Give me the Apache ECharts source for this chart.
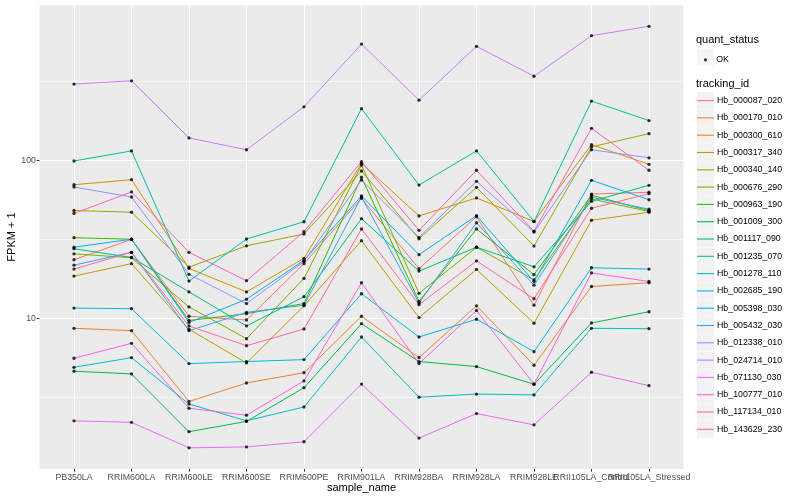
<!DOCTYPE html>
<html>
<head>
<meta charset="utf-8">
<script src="https://cdn.jsdelivr.net/npm/echarts@6/dist/echarts.min.js"></script>
<style>
html,body{margin:0;padding:0;background:#ffffff;}
#chart{width:800px;height:500px;}
</style>
</head>
<body>
<div id="chart"></div>
<script>
// ---------------- data ----------------
const categories = ['PB350LA','RRIM600LA','RRIM600LE','RRIM600SE','RRIM600PE','RRIM901LA','RRIM928BA','RRIM928LA','RRIM928LE','RRII105LA_Control','RRII105LA_Stressed'];

const trackingIds = ['Hb_000087_020','Hb_000170_010','Hb_000300_610','Hb_000317_340','Hb_000340_140','Hb_000676_290','Hb_000963_190','Hb_001009_300','Hb_001117_090','Hb_001235_070','Hb_001278_110','Hb_002685_190','Hb_005398_030','Hb_005432_030','Hb_012338_010','Hb_024714_010','Hb_071130_030','Hb_100777_010','Hb_117134_010','Hb_143629_230'];

// FPKM + 1 per sample (order of categories)
const hb000087_020 = [23.5, 31.6, 10.3, 9.75, 22.2, 57.6, 20.6, 44.0, 12.1, 61.3, 62.9];
const hb000170_010 = [8.64, 8.34, 2.97, 3.89, 4.52, 10.3, 5.63, 12.0, 5.04, 15.9, 16.8];
const hb000300_610 = [70.2, 75.6, 20.7, 14.7, 24.0, 96.0, 44.5, 57.9, 41.1, 126, 94.6];
const hb000317_340 = [18.5, 22.2, 8.52, 5.21, 12.0, 31.0, 10.1, 20.4, 9.30, 41.8, 47.0];
const hb000340_140 = [48.2, 47.0, 21.1, 28.8, 34.2, 85.8, 31.9, 67.6, 28.7, 122, 148];
const hb000676_290 = [25.6, 24.2, 11.8, 7.42, 17.9, 93.6, 14.4, 28.2, 17.5, 57.0, 47.5];
const hb000963_190 = [32.4, 31.7, 9.68, 10.7, 12.4, 78.3, 12.8, 36.8, 18.9, 60.2, 48.1];
const hb001009_300 = [4.62, 4.44, 1.91, 2.22, 3.63, 9.24, 5.32, 4.94, 3.82, 9.34, 11.0];
const hb001117_090 = [27.6, 24.3, 14.7, 8.94, 13.7, 42.8, 19.9, 28.2, 21.2, 55.1, 69.6];
const hb001235_070 = [99.3, 115, 17.2, 31.8, 40.9, 213, 69.9, 115, 41.1, 238, 179];
const hb001278_110 = [4.89, 5.63, 2.86, 2.24, 2.74, 7.61, 3.16, 3.31, 3.27, 8.64, 8.59];
const hb002685_190 = [11.6, 11.5, 5.16, 5.32, 5.47, 14.3, 7.61, 9.86, 6.14, 20.9, 20.5];
const hb005398_030 = [28.2, 31.7, 9.41, 13.2, 23.3, 59.6, 25.3, 44.7, 17.1, 74.9, 56.4];
const hb005432_030 = [21.7, 26.2, 8.34, 10.9, 12.1, 58.7, 12.5, 40.3, 16.2, 58.5, 49.1];
const hb012338_010 = [67.9, 58.7, 19.0, 12.4, 22.9, 75.2, 32.6, 73.8, 35.2, 117, 104];
const hb024714_010 = [305, 320, 139, 117, 219, 547, 241, 529, 342, 618, 709];
const hb071130_030 = [2.24, 2.19, 1.51, 1.53, 1.65, 3.83, 1.74, 2.49, 2.11, 4.55, 3.74];
const hb100777_010 = [5.58, 6.94, 2.69, 2.43, 4.01, 16.8, 5.17, 11.2, 3.82, 19.4, 17.1];
const hb117134_010 = [46.2, 63.2, 26.2, 17.3, 35.4, 98.3, 36.1, 86.7, 35.6, 160, 86.7];
const hb143629_230 = [20.5, 26.2, 8.94, 6.70, 8.55, 36.8, 12.2, 23.1, 13.3, 49.8, 61.6];

const seriesValues = [hb000087_020, hb000170_010, hb000300_610, hb000317_340, hb000340_140, hb000676_290, hb000963_190, hb001009_300, hb001117_090, hb001235_070, hb001278_110, hb002685_190, hb005398_030, hb005432_030, hb012338_010, hb024714_010, hb071130_030, hb100777_010, hb117134_010, hb143629_230];

const quantStatus = ['OK'];
const yTickValues = [10, 100];
const yTickLabels = ['10', '100'];
const yMinorValues = [Math.sqrt(10), Math.sqrt(1000), Math.sqrt(100000)];

// ---------------- style ----------------
const palette = ['#F8766D','#EA8331','#D89000','#C09B00','#A3A500','#7CAE00','#39B600','#00BB4E','#00BF7D','#00C1A3','#00BFC4','#00BAE0','#00B0F6','#35A2FF','#9590FF','#C77CFF','#E76BF3','#FA62DB','#FF62BC','#FF6C91'];
const FONT = '"Liberation Sans", Arial, Helvetica, sans-serif';

// log10 scale (ggplot scale_y_log10 with 5% expansion)
const allVals = seriesValues.flat();
const lmin = Math.log10(Math.min(...allVals));
const lmax = Math.log10(Math.max(...allVals));
const pad = (lmax - lmin) * 0.05;
const yMin = lmin - pad, yMax = lmax + pad;
const yMajor = yTickValues.map(Math.log10);
const yMinor = yMinorValues.map(Math.log10);
const catIdx = categories.map((c, i) => i);
// ECharts drops an end label that overlaps its neighbour; ggplot keeps all,
// so the crowded second-to-last label is drawn by an overlaid label-only axis.
const crowdedIdx = [categories.length - 2];
const mainLabelIdx = catIdx.filter(i => !crowdedIdx.includes(i));
const catFormatter = v => (categories[Math.round(v)] !== undefined && Math.abs(v - Math.round(v)) < 1e-6) ? categories[Math.round(v)] : '';
const xMin = -0.6, xMax = categories.length - 0.4;

const lineSeries = trackingIds.map((id, k) => ({
  name: id,
  type: 'line',
  data: seriesValues[k].map((v, i) => [i, Math.log10(v)]),
  symbol: 'none',
  color: palette[k],
  lineStyle: { width: 1, color: palette[k] },
  itemStyle: { color: palette[k] },
  z: 2,
  silent: true
}));

const pointData = [];
seriesValues.forEach(arr => arr.forEach((v, i) => pointData.push([i, Math.log10(v)])));

const legendLeft = 697;
const legendText = { fontSize: 8.8, color: '#000000', fontFamily: FONT };
// key line centred in a 17x17 box (the two move-to points keep the full box size)
const keyLineIcon = 'path://M0,0M17,17M0,7.95L17,7.95L17,9.05L0,9.05Z';
const xLabelStyle = { color: '#4D4D4D', fontSize: 8.8, margin: 4, fontFamily: FONT };

const option = {
  backgroundColor: '#ffffff',
  animation: false,
  textStyle: { fontFamily: FONT },
  title: [
    { text: 'quant_status', left: 696, top: 34.5, padding: 0, textStyle: { fontSize: 11, fontWeight: 'normal', color: '#000', fontFamily: FONT } },
    { text: 'tracking_id', left: 696, top: 78.5, padding: 0, textStyle: { fontSize: 11, fontWeight: 'normal', color: '#000', fontFamily: FONT } }
  ],
  grid: { left: 39.5, top: 5.2, width: 644, height: 463.7, show: true, backgroundColor: '#EBEBEB', borderWidth: 0,
          containLabel: false, outerBoundsMode: 'none' },
  xAxis: [
    {
      type: 'value', min: xMin, max: xMax, minInterval: 1, maxInterval: 1, position: 'bottom',
      axisLine: { show: false, onZero: false },
      axisTick: { show: true, length: 2.75, lineStyle: { color: '#333333', width: 1 }, customValues: catIdx },
      axisLabel: Object.assign({ customValues: mainLabelIdx, showMinLabel: true, showMaxLabel: true, formatter: catFormatter }, xLabelStyle),
      splitLine: { show: true, lineStyle: { color: '#ffffff', width: 1.1 } },
      name: 'sample_name', nameLocation: 'middle', nameGap: 14, nameMoveOverlap: false,
      nameTextStyle: { fontSize: 11, color: '#000', fontFamily: FONT, verticalAlign: 'top' }
    },
    {
      type: 'value', min: xMin, max: xMax, minInterval: 1, maxInterval: 1, position: 'bottom',
      axisLine: { show: false, onZero: false },
      axisTick: { show: false, customValues: crowdedIdx },
      axisLabel: Object.assign({ customValues: crowdedIdx, showMinLabel: true, showMaxLabel: true, formatter: catFormatter }, xLabelStyle),
      splitLine: { show: false }
    }
  ],
  yAxis: [
    {
      type: 'value', min: yMin, max: yMax, minInterval: 1, maxInterval: 1, position: 'left',
      axisLine: { show: false, onZero: false },
      axisTick: { show: true, length: 2.75, lineStyle: { color: '#333333', width: 1 }, customValues: yMajor },
      axisLabel: { customValues: yMajor, showMinLabel: true, showMaxLabel: true,
        formatter: v => { const j = yMajor.findIndex(t => Math.abs(t - v) < 1e-6); return j >= 0 ? yTickLabels[j] : ''; },
        color: '#4D4D4D', fontSize: 8.8, margin: 3.5, fontFamily: FONT },
      splitLine: { show: true, lineStyle: { color: '#ffffff', width: 1.1 } },
      name: 'FPKM + 1', nameLocation: 'middle', nameGap: 22, nameMoveOverlap: false,
      nameTextStyle: { fontSize: 11, color: '#000', fontFamily: FONT }
    },
    {
      type: 'value', min: yMin, max: yMax, minInterval: 0.5, maxInterval: 0.5, position: 'left',
      axisLine: { show: false, onZero: false },
      axisTick: { show: false, customValues: yMinor },
      axisLabel: { show: false, customValues: yMinor },
      splitLine: { show: true, lineStyle: { color: '#ffffff', width: 0.55 } }
    }
  ],
  legend: [
    // grey key backgrounds for tracking_id
    { orient: 'vertical', left: legendLeft, top: 92.1, itemWidth: 17, itemHeight: 17, itemGap: 0.3,
      icon: 'rect', itemStyle: { color: '#F2F2F2', borderWidth: 0 }, selectedMode: false, z: 2,
      textStyle: Object.assign({}, legendText, { color: 'rgba(0,0,0,0)' }), padding: 0, data: trackingIds },
    // line keys for tracking_id
    { orient: 'vertical', left: legendLeft, top: 92.1, itemWidth: 17, itemHeight: 17, itemGap: 0.3,
      icon: keyLineIcon, symbolKeepAspect: true, selectedMode: false, z: 4,
      textStyle: Object.assign({}, legendText, { padding: [0, 0, 0, -2] }), padding: 0, data: trackingIds },
    // grey key for quant_status
    { orient: 'vertical', left: legendLeft, top: 48.5, itemWidth: 17, itemHeight: 17,
      icon: 'rect', itemStyle: { color: '#F2F2F2', borderWidth: 0 }, selectedMode: false, z: 2,
      textStyle: Object.assign({}, legendText, { color: 'rgba(0,0,0,0)' }), padding: 0, data: quantStatus },
    // dot key for quant_status
    { orient: 'vertical', left: legendLeft + 6.85, top: 55.35, itemWidth: 3.3, itemHeight: 3.3,
      icon: 'circle', itemStyle: { color: '#000' }, selectedMode: false, z: 4,
      textStyle: Object.assign({}, legendText, { padding: [0, 0, 0, 4] }), padding: 0, data: quantStatus }
  ],
  series: lineSeries.concat([{
    name: quantStatus[0], type: 'scatter', data: pointData, symbol: 'circle', symbolSize: 3.3,
    itemStyle: { color: '#000000' }, z: 3, silent: true
  }])
};

const chart = echarts.init(document.getElementById('chart'), null, { renderer: 'canvas' });
chart.setOption(option);
</script>
</body>
</html>
